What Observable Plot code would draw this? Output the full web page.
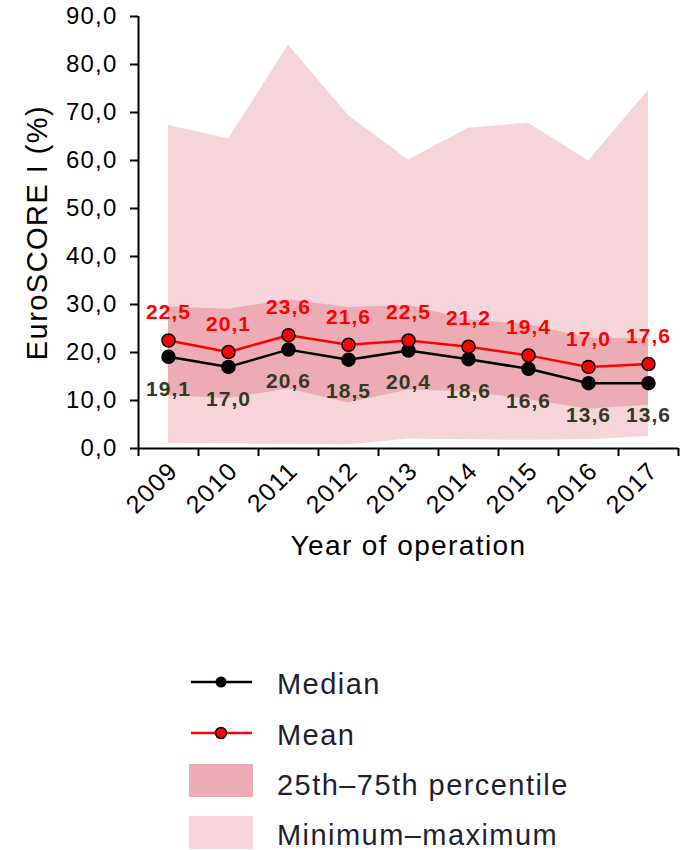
<!DOCTYPE html>
<html>
<head>
<meta charset="utf-8">
<script src="https://cdn.jsdelivr.net/npm/d3@7"></script>
<script src="https://cdn.jsdelivr.net/npm/@observablehq/plot@0.6"></script>
<style>
  html, body { margin: 0; padding: 0; background: #fff; }
  #wrap { position: relative; width: 682px; height: 850px; font-family: "Liberation Sans", Arial, sans-serif; }
  #wrap svg { display: block; }
  #wrap svg text { letter-spacing: 0.05em; }
  #legend { position: absolute; left: 0; top: 600px; }
</style>
</head>
<body>
<div id="wrap"></div>
<script>
const years = [2009, 2010, 2011, 2012, 2013, 2014, 2015, 2016, 2017];
const meanVals = [22.5, 20.1, 23.6, 21.6, 22.5, 21.2, 19.4, 17.0, 17.6];
const medianVals = [19.1, 17.0, 20.6, 18.5, 20.4, 18.6, 16.6, 13.6, 13.6];
const p25Vals = [11.0, 10.4, 12.4, 9.5, 12.2, 11.8, 10.2, 8.2, 9.0];
const p75Vals = [29.5, 29.0, 31.0, 29.4, 29.8, 26.8, 25.8, 23.0, 22.8];
const minVals = [1.1, 1.0, 0.9, 0.8, 2.0, 1.8, 1.7, 1.8, 2.5];
const maxVals = [67.3, 64.5, 84.0, 69.4, 60.1, 66.7, 67.8, 59.9, 74.6];
const yTicks = [0, 10, 20, 30, 40, 50, 60, 70, 80, 90];
const legendLabels = ["Median", "Mean", "25th\u201375th percentile", "Minimum\u2013maximum"];

const table = years.map((year, i) => ({
  year, mean: meanVals[i], median: medianVals[i],
  p25: p25Vals[i], p75: p75Vals[i], min: minVals[i], max: maxVals[i]
}));
const bounds = [...years.map(y => y - 0.5), years[years.length - 1] + 0.5];
const fmt = d => d.toFixed(1).replace(".", ",");

const LIGHT = "#F5D4DA", DARK = "#EDACB4", RED = "#FF0000", OLIVE = "#333A1F";

const chart = Plot.plot({
  width: 682,
  height: 600,
  marginLeft: 138,
  marginRight: 4,
  marginTop: 16,
  marginBottom: 152,
  x: {domain: [bounds[0], bounds[bounds.length - 1]], axis: null},
  y: {domain: [0, 90], axis: null},
  style: {fontFamily: "'Liberation Sans', Arial, sans-serif", background: "white", overflow: "visible", color: "black"},
  marks: [
    Plot.areaY(table, {x: "year", y1: "min", y2: "max", fill: LIGHT}),
    Plot.areaY(table, {x: "year", y1: "p25", y2: "p75", fill: DARK}),
    Plot.axisY({ticks: yTicks, tickSize: 8, tickPadding: 13, tickFormat: fmt, fontSize: 24, strokeWidth: 2, fill: "black", label: null}),
    Plot.axisX({ticks: bounds, tickSize: 8, tickFormat: () => "", strokeWidth: 2, label: null}),
    Plot.ruleX([bounds[0]], {y1: 0, y2: 90, stroke: "black", strokeWidth: 2}),
    Plot.ruleY([0], {x1: bounds[0], x2: bounds[bounds.length - 1], stroke: "black", strokeWidth: 2}),
    Plot.text(years, {x: d => d, y: 0, dy: 18, dx: 5, rotate: -45, textAnchor: "end", text: d => String(d), fontSize: 25, fill: "black"}),
    Plot.line(table, {x: "year", y: "median", stroke: "black", strokeWidth: 2.5}),
    Plot.dot(table, {x: "year", y: "median", r: 6.5, fill: "black", stroke: "black"}),
    Plot.line(table, {x: "year", y: "mean", stroke: RED, strokeWidth: 2.5}),
    Plot.dot(table, {x: "year", y: "mean", r: 6.5, fill: RED, stroke: "black", strokeWidth: 1.5}),
    Plot.text(table, {x: "year", y: "mean", text: d => fmt(d.mean), dy: -28, fill: RED, fontWeight: "bold", fontSize: 21}),
    Plot.text(table, {x: "year", y: "median", text: d => fmt(d.median), dy: 32, fill: OLIVE, fontWeight: "bold", fontSize: 21}),
    Plot.text(["EuroSCORE I (%)"], {frameAnchor: "left", textAnchor: "middle", dx: -101, rotate: -90, fontSize: 29, fill: "black"}),
    Plot.text(["Year of operation"], {frameAnchor: "bottom", textAnchor: "middle", dy: 106, fontSize: 28, fill: "black"})
  ]
});
document.getElementById("wrap").appendChild(chart);

// Legend (SVG below the chart)
const ns = "http://www.w3.org/2000/svg";
const leg = document.createElementNS(ns, "svg");
leg.setAttribute("id", "legend");
leg.setAttribute("width", 682);
leg.setAttribute("height", 250);
const off = 600;
function el(tag, attrs) {
  const e = document.createElementNS(ns, tag);
  for (const k in attrs) e.setAttribute(k, attrs[k]);
  leg.appendChild(e);
  return e;
}
el("line", {x1: 191, x2: 252, y1: 682 - off, y2: 682 - off, stroke: "black", "stroke-width": 2.5});
el("circle", {cx: 221, cy: 682 - off, r: 5.5, fill: "black"});
el("line", {x1: 191, x2: 252, y1: 733 - off, y2: 733 - off, stroke: RED, "stroke-width": 2.5});
el("circle", {cx: 221, cy: 733 - off, r: 5.5, fill: RED, stroke: "black", "stroke-width": 1.5});
el("rect", {x: 189, y: 764 - off, width: 64, height: 33, fill: DARK});
el("rect", {x: 189, y: 816 - off, width: 64, height: 33, fill: LIGHT});
const baselines = [694, 745, 795, 845];
legendLabels.forEach((t, i) => {
  const tx = el("text", {x: 277, y: baselines[i] - off, "font-size": 29, fill: "#231F33",
    "font-family": "'Liberation Sans', Arial, sans-serif"});
  tx.textContent = t;
});
document.getElementById("wrap").appendChild(leg);
</script>
</body>
</html>
